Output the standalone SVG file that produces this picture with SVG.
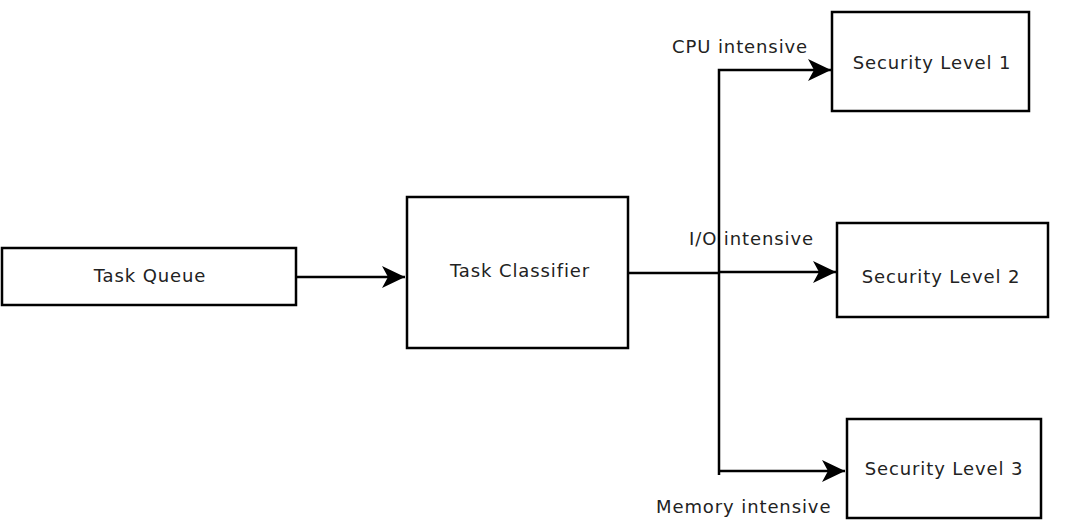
<svg xmlns="http://www.w3.org/2000/svg" width="1069" height="523" viewBox="0 0 1069 523">
<style>
.box{fill:#fff;stroke:#000;stroke-width:2.5}
.t{font-family:"DejaVu Sans",sans-serif;font-size:18px;letter-spacing:0.9px;fill:#222;text-anchor:middle}
.l{font-family:"DejaVu Sans",sans-serif;font-size:18px;letter-spacing:0.9px;fill:#222}
.c{fill:none;stroke:#000;stroke-width:2.5}
</style>
<defs>
<marker id="ah" markerUnits="userSpaceOnUse" markerWidth="26" markerHeight="24" refX="23" refY="11" orient="auto">
<path d="M0,0 L23,11 L0,22 L6,11 Z" fill="#000"/>
</marker>
</defs>
<rect width="1069" height="523" fill="#fff"/>
<g id="connectors">
<path class="c" d="M296,277 H405" marker-end="url(#ah)"/>
<path class="c" d="M628,273 H719"/>
<path class="c" d="M719,475 V70 H831" marker-end="url(#ah)"/>
<path class="c" d="M719,272 H836" marker-end="url(#ah)"/>
<path class="c" d="M719,471 H845" marker-end="url(#ah)"/>
<text class="l" x="672" y="53">CPU intensive</text>
<text class="l" x="689" y="245">I/O intensive</text>
<text class="l" x="656" y="513">Memory intensive</text>
</g>
<g id="task-queue"><rect class="box" x="2" y="248" width="294" height="57"/><text class="t" x="150" y="282">Task Queue</text></g>
<g id="task-classifier"><rect class="box" x="407" y="197" width="221" height="151"/><text class="t" x="520" y="277">Task Classifier</text></g>
<g id="security-level-1"><rect class="box" x="832" y="12" width="197" height="99"/><text class="t" x="932" y="69">Security Level 1</text></g>
<g id="security-level-2"><rect class="box" x="837" y="223" width="211" height="94"/><text class="t" x="941" y="283">Security Level 2</text></g>
<g id="security-level-3"><rect class="box" x="847" y="419" width="194" height="99"/><text class="t" x="944" y="475">Security Level 3</text></g>
</svg>
